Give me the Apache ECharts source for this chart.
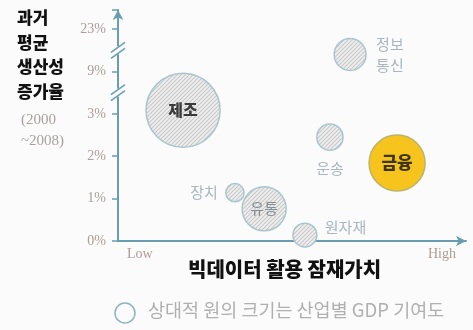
<!DOCTYPE html>
<html><head><meta charset="utf-8">
<script src="https://cdn.jsdelivr.net/npm/echarts@6/dist/echarts.min.js"></script>
<style>html,body{margin:0;padding:0;background:#fbfbfb;}#c{width:473px;height:330px;}</style>
</head><body><div id="c"></div>
<script>
// Data
const industries = ['제조','정보통신','운송','금융','장치','유통','원자재'];
const potential  = [18.7, 66.7, 60.9, 80.2, 33.6, 42.0, 53.7];   // 빅데이터 활용 잠재가치 (Low 0 ~ High 100)
const growth     = [3.5, 14.6, 2.45, 1.84, 1.14, 0.76, 0.14];    // 과거 평균 생산성 증가율 (%)
const gdpShare   = [28.0, 5.2, 3.5, 16.0, 1.7, 9.9, 2.9];        // 상대적 GDP 기여도
const yTickValues = [0, 1, 2, 3, 9, 23];
const yTickLabels = ['0%', '1%', '2%', '3%', '9%', '23%'];
const highlight = '금융';

// broken-axis mapping: each tick value occupies one equal step
function toTier(v){
  for (let i = 0; i < yTickValues.length - 1; i++){
    const a = yTickValues[i], b = yTickValues[i+1];
    if (v <= b) return i + (v - a) / (b - a);
  }
  return yTickValues.length - 1;
}

// diagonal hatch pattern
const pc = document.createElement('canvas');
pc.width = 4; pc.height = 4;
const g = pc.getContext('2d');
g.fillStyle = '#eeeeee'; g.fillRect(0,0,4,4);
g.strokeStyle = '#c8c8c8'; g.lineWidth = 1.1;
g.beginPath();
g.moveTo(-1,5); g.lineTo(5,-1);
g.moveTo(-1,1); g.lineTo(1,-1);
g.moveTo(3,5); g.lineTo(5,3);
g.stroke();
const hatchFill = {image: pc, repeat: 'repeat'};

const chart = echarts.init(document.getElementById('c'));
const serif = '"Liberation Serif","DejaVu Serif",serif';
const kfont = '"Noto Sans CJK KR","Noto Sans",sans-serif';
const light = '#94a6b0';

const labelCfg = {
  '제조':   {position:'inside', color:'#111', fontWeight:900, fontSize:16},
  '정보통신':{position:'right', distance:10, color:light, fontSize:15, lineHeight:21, formatter:'정보\n통신'},
  '운송':   {position:'bottom', distance:11, color:light, fontSize:15},
  '금융':   {position:'inside', color:'#111', fontWeight:900, fontSize:17},
  '장치':   {position:'left', distance:8, color:light, fontSize:15},
  '유통':   {position:'inside', color:'#6c7a82', fontSize:15},
  '원자재': {position:'right', distance:8, offset:[0,-8], color:light, fontSize:15}
};

const bubbleData = industries.map((n,i)=>[potential[i], toTier(growth[i]), gdpShare[i], n]);

const labelData = industries.map((n,i)=>({
  name:n,
  value:[potential[i], toTier(growth[i])],
  symbolSize: 14*Math.sqrt(gdpShare[i]),
  label: Object.assign({show:true, formatter:'{b}', fontFamily:kfont}, labelCfg[n])
}));

const axisColor = '#6a9db2';
chart.setOption({
  animation:false,
  backgroundColor:'#fbfbfb',
  grid:{left:118, right:7, top:10, bottom:89},
  xAxis:{type:'value', min:0, max:100, interval:100,
    axisLine:{show:true, symbol:['none','arrow'], symbolSize:[8,10], lineStyle:{color:axisColor, width:2}},
    axisTick:{show:false}, axisLabel:{show:false}, splitLine:{show:false}},
  yAxis:{type:'value', min:0, max:5.45, interval:1,
    axisLine:{show:true, symbol:['none','arrow'], symbolSize:[8,10], lineStyle:{color:axisColor, width:2}},
    axisTick:{show:true, length:6, lineStyle:{color:axisColor, width:1.5}},
    axisLabel:{color:'#ad9d96', fontFamily:serif, fontSize:14, margin:12,
      formatter:v=> (Number.isInteger(v) && v < yTickLabels.length) ? yTickLabels[v] : ''},
    splitLine:{show:false}},
  series:[
    {type:'custom', z:3, data:bubbleData,
      renderItem:(params, api)=>{
        const c = api.coord([api.value(0), api.value(1)]);
        const r = 7*Math.sqrt(api.value(2));
        const fin = industries[params.dataIndex] === highlight;
        return {type:'circle', shape:{cx:c[0], cy:c[1], r:r},
          style: fin ? {fill:'#f6c41c', stroke:'#b9b56a', lineWidth:1.5}
                     : {fill:hatchFill, stroke:'#a9c6d0', lineWidth:1.5}};
      }},
    {type:'scatter', z:4, data:labelData, silent:true,
      itemStyle:{color:'rgba(0,0,0,0)', borderWidth:0}}
  ],
  graphic:[
    {type:'text', right:473-64, top:5, style:{text:'과거\n평균\n생산성\n증가율', font:'900 17px '+kfont, fill:'#111', align:'right', lineHeight:24.7}},
    {type:'text', right:473-64, top:110, style:{text:'(2000\n~2008)', font:'15px '+serif, fill:'#aaa0a0', align:'right', lineHeight:21}},
    {type:'text', left:127, top:247, style:{text:'Low', font:'14px '+serif, fill:'#ad9d96'}},
    {type:'text', left:428, top:247, style:{text:'High', font:'14px '+serif, fill:'#ad9d96'}},
    {type:'text', left:188, top:259, style:{text:'빅데이터 활용 잠재가치', font:'900 20px '+kfont, fill:'#111'}},
    {type:'circle', shape:{cx:125, cy:313, r:10}, style:{fill:'none', stroke:'#8fb3c2', lineWidth:1.5}},
    {type:'text', left:148, top:301, style:{text:'상대적 원의 크기는 산업별 GDP 기여도', font:'18.5px '+kfont, fill:'#b0b0b0'}}
  ]
});

// axis break marks between 3%-9% and 9%-23%
const marks = [];
[3.5, 4.5].forEach(t=>{
  const p = chart.convertToPixel({gridIndex:0}, [0, t]);
  marks.push({type:'rect', shape:{x:p[0]-2, y:p[1]-4, width:4, height:8}, style:{fill:'#fbfbfb'}, z:9});
  [-3, 3].forEach(d=>{
    marks.push({type:'line', shape:{x1:p[0]-7, y1:p[1]+d+5, x2:p[0]+7, y2:p[1]+d-5},
      style:{stroke:axisColor, lineWidth:1.5}, z:10});
  });
});
chart.setOption({graphic: chart.getOption().graphic[0].elements.concat(marks)});
</script></body></html>
